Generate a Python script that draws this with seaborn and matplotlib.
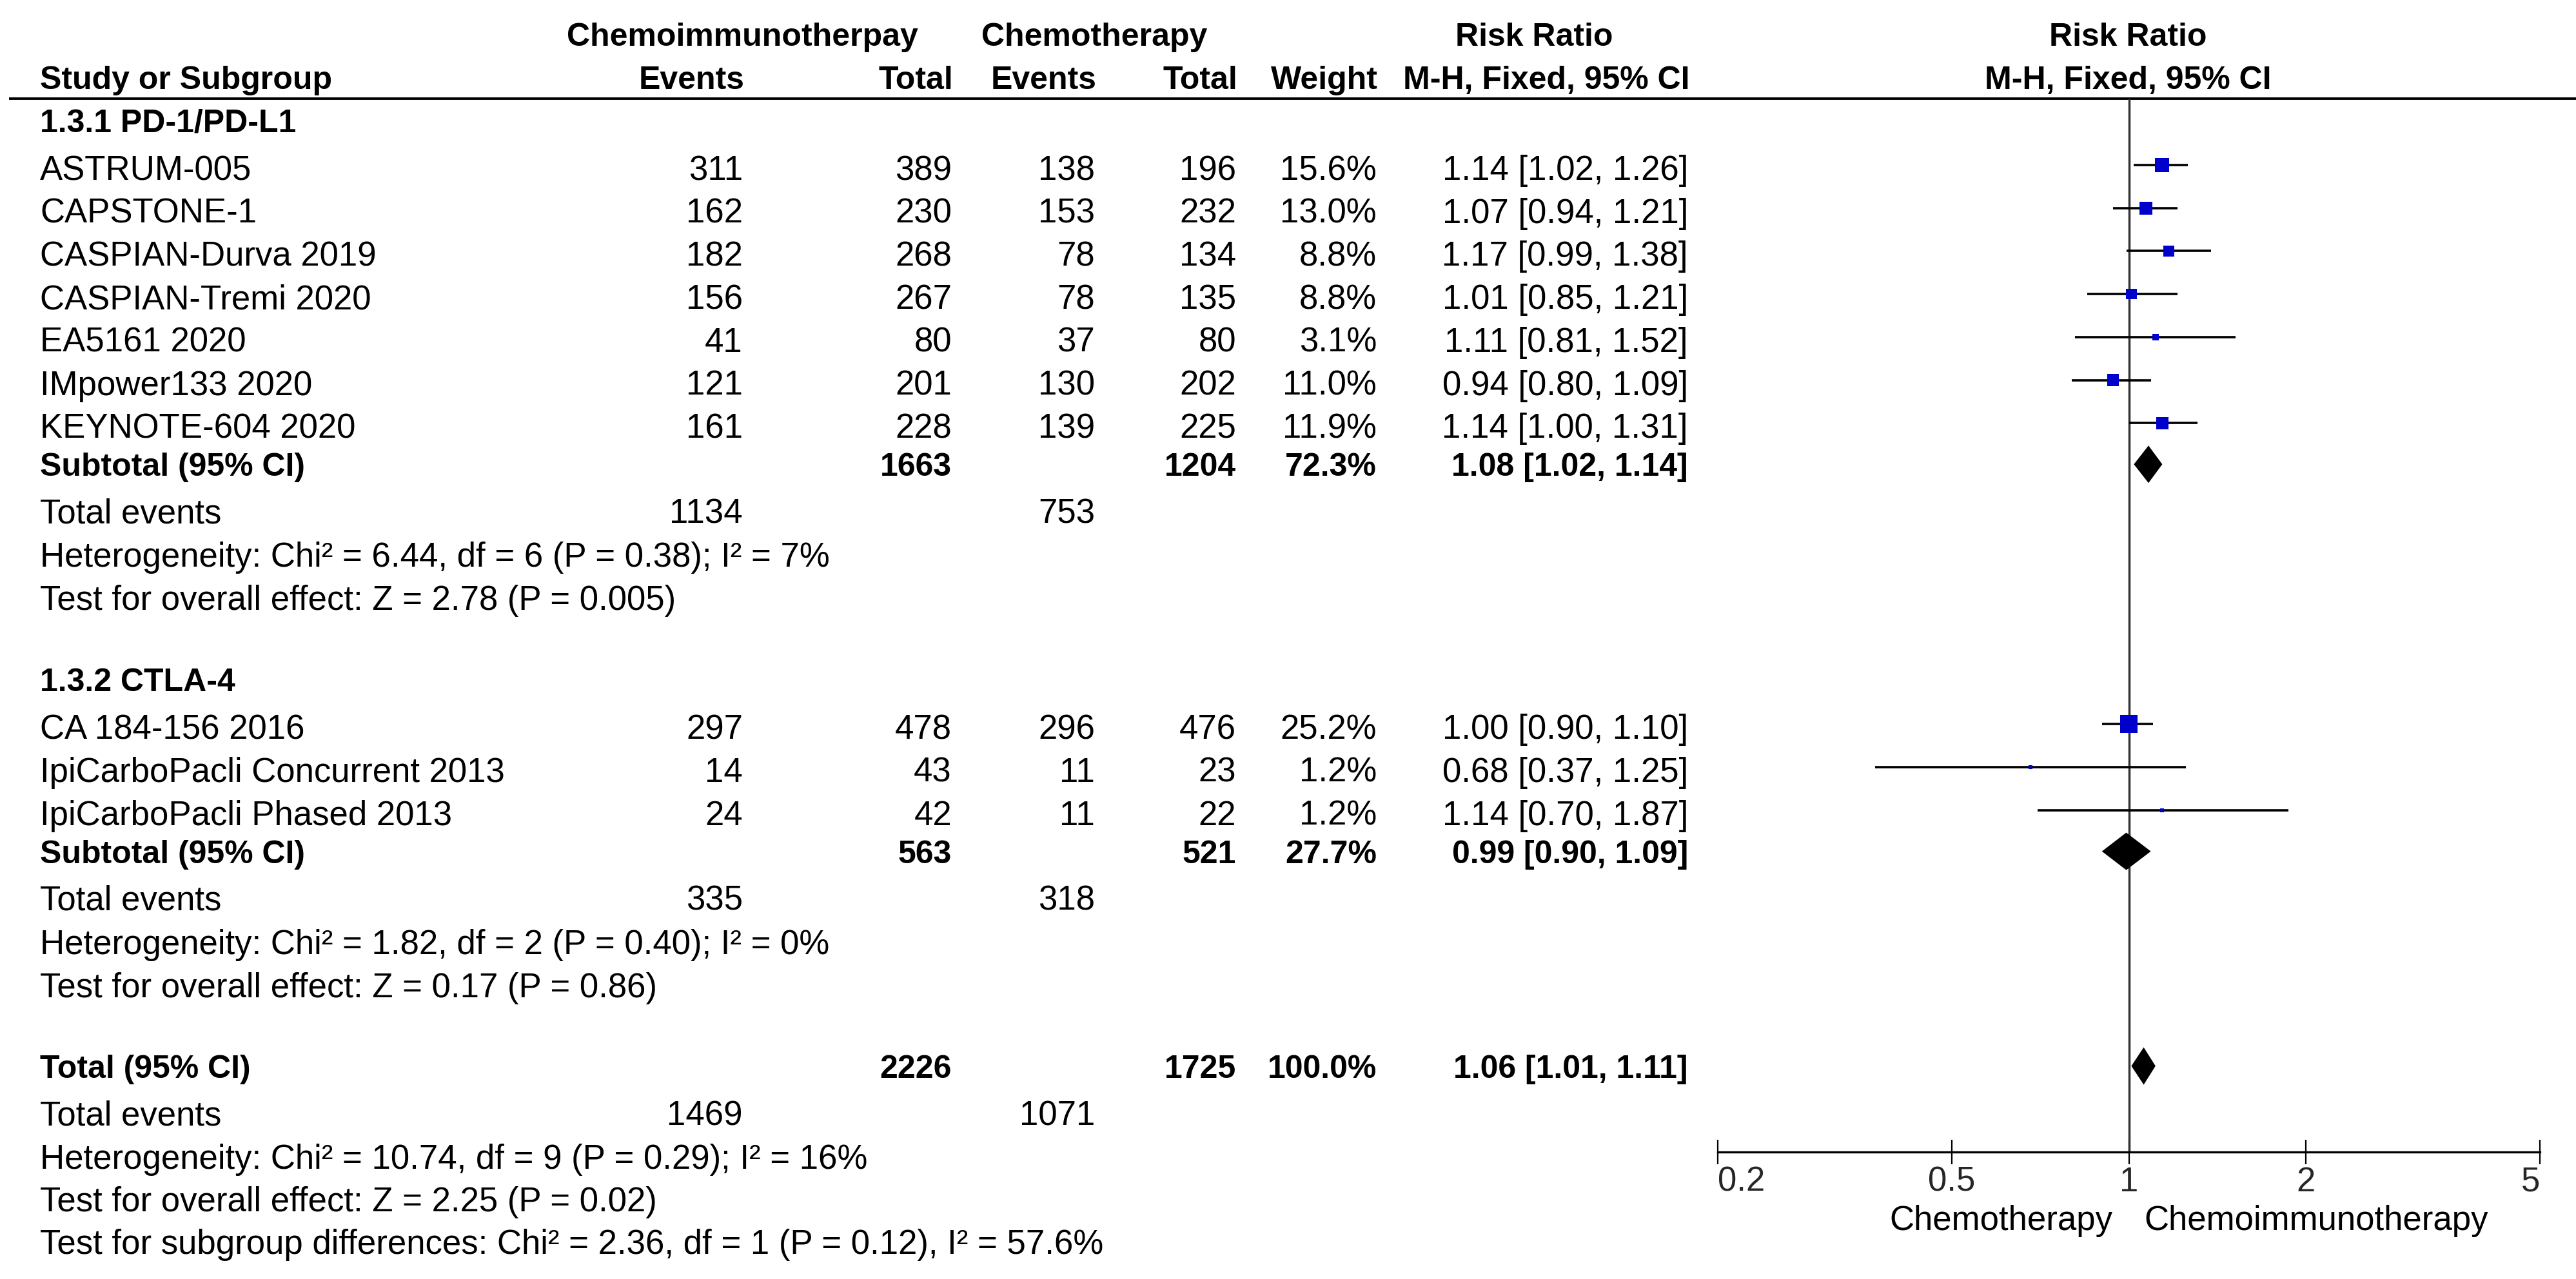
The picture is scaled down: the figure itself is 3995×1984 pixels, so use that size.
import matplotlib
matplotlib.use("Agg")
import matplotlib.pyplot as plt
import seaborn as sns
import numpy as np
from matplotlib.ticker import FixedLocator, NullLocator

# ---- data ----
group_titles = ["1.3.1 PD-1/PD-L1", "1.3.2 CTLA-4"]

studies_1 = ["ASTRUM-005", "CAPSTONE-1", "CASPIAN-Durva 2019", "CASPIAN-Tremi 2020",
             "EA5161 2020", "IMpower133 2020", "KEYNOTE-604 2020"]
events_ci_1 = [311, 162, 182, 156, 41, 121, 161]
total_ci_1 = [389, 230, 268, 267, 80, 201, 228]
events_c_1 = [138, 153, 78, 78, 37, 130, 139]
total_c_1 = [196, 232, 134, 135, 80, 202, 225]
weight_1 = [15.6, 13.0, 8.8, 8.8, 3.1, 11.0, 11.9]
rr_1 = [1.14, 1.07, 1.17, 1.01, 1.11, 0.94, 1.14]
lo_1 = [1.02, 0.94, 0.99, 0.85, 0.81, 0.80, 1.00]
hi_1 = [1.26, 1.21, 1.38, 1.21, 1.52, 1.09, 1.31]

studies_2 = ["CA 184-156 2016", "IpiCarboPacli Concurrent 2013", "IpiCarboPacli Phased 2013"]
events_ci_2 = [297, 14, 24]
total_ci_2 = [478, 43, 42]
events_c_2 = [296, 11, 11]
total_c_2 = [476, 23, 22]
weight_2 = [25.2, 1.2, 1.2]
rr_2 = [1.00, 0.68, 1.14]
lo_2 = [0.90, 0.37, 0.70]
hi_2 = [1.10, 1.25, 1.87]

# subtotal / total rows: [group1, group2, overall]
sum_total_ci = [1663, 563, 2226]
sum_total_c = [1204, 521, 1725]
sum_weight = [72.3, 27.7, 100.0]
sum_rr = [1.08, 0.99, 1.06]
sum_lo = [1.02, 0.90, 1.01]
sum_hi = [1.14, 1.09, 1.11]
sum_events_ci = [1134, 335, 1469]
sum_events_c = [753, 318, 1071]
heterogeneity = ["Heterogeneity: Chi² = 6.44, df = 6 (P = 0.38); I² = 7%",
                 "Heterogeneity: Chi² = 1.82, df = 2 (P = 0.40); I² = 0%",
                 "Heterogeneity: Chi² = 10.74, df = 9 (P = 0.29); I² = 16%"]
overall_effect = ["Test for overall effect: Z = 2.78 (P = 0.005)",
                  "Test for overall effect: Z = 0.17 (P = 0.86)",
                  "Test for overall effect: Z = 2.25 (P = 0.02)"]
subgroup_diff = "Test for subgroup differences: Chi² = 2.36, df = 1 (P = 0.12), I² = 57.6%"

x_ticks = [0.2, 0.5, 1, 2, 5]
x_ticklabels = ["0.2", "0.5", "1", "2", "5"]

# ---- layout (pixels) ----
W, H = 3995, 1984
FS = 38      # regular text
FS_B = 36    # bold text
X_LABEL = 62
X_EV1, X_TOT1, X_EV2, X_TOT2, X_W, X_RR = 1152, 1476, 1698, 1917, 2135, 2618
PLOT_L, PLOT_R = 2664, 3939
AXIS_Y = 1787
RULE_Y = 153
ROW = 66.7
CAP = 18  # half cap height, used to centre text on a row

sns.set_theme(style="white")
plt.rcParams["font.family"] = ["Liberation Sans", "DejaVu Sans"]

fig = plt.figure(figsize=(W / 100, H / 100), dpi=100)
ax_t = fig.add_axes([0, 0, 1, 1])
ax_t.set_xlim(0, W)
ax_t.set_ylim(H, 0)
ax_t.axis("off")

ax = fig.add_axes([PLOT_L / W, 0, (PLOT_R - PLOT_L) / W, 1])
ax.patch.set_alpha(0)
ax.set_xscale("log")
ax.set_xlim(0.2, 5)
ax.set_ylim(H, 0)


def txt(x, y, s, ha="left", bold=False):
    ax_t.text(x, y + CAP, s, ha=ha, va="baseline", fontsize=FS_B if bold else FS,
              fontweight="bold" if bold else "normal", color="black")


# header
txt(879, 53, "Chemoimmunotherpay", bold=True)
txt(1522, 53, "Chemotherapy", bold=True)
txt(2379, 53, "Risk Ratio", ha="center", bold=True)
txt(3300, 53, "Risk Ratio", ha="center", bold=True)
txt(X_LABEL, 120, "Study or Subgroup", bold=True)
for xx, s in zip([X_EV1, X_TOT1, X_EV2, X_TOT2, X_W, X_RR],
                 ["Events", "Total", "Events", "Total", "Weight", "M-H, Fixed, 95% CI"]):
    txt(xx + 2, 120, s, ha="right", bold=True)
txt(3300, 120, "M-H, Fixed, 95% CI", ha="center", bold=True)
ax_t.hlines(RULE_Y, 14, W, color="black", lw=2.8)

groups = [
    (studies_1, events_ci_1, total_ci_1, events_c_1, total_c_1, weight_1, rr_1, lo_1, hi_1),
    (studies_2, events_ci_2, total_ci_2, events_c_2, total_c_2, weight_2, rr_2, lo_2, hi_2),
]

study_y, study_rr, study_lo, study_hi, study_w = [], [], [], [], []
diamonds = []

y = 187
for g, (names, e1, t1, e2, t2, w, rr, lo, hi) in enumerate(groups):
    txt(X_LABEL, y, group_titles[g], bold=True)
    y += 74
    for i in range(len(names)):
        txt(X_LABEL, y, names[i])
        txt(X_EV1, y, str(e1[i]), ha="right")
        txt(X_TOT1, y, str(t1[i]), ha="right")
        txt(X_EV2, y, str(e2[i]), ha="right")
        txt(X_TOT2, y, str(t2[i]), ha="right")
        txt(X_W, y, f"{w[i]:.1f}%", ha="right")
        txt(X_RR, y, f"{rr[i]:.2f} [{lo[i]:.2f}, {hi[i]:.2f}]", ha="right")
        study_y.append(y - 5)
        study_rr.append(rr[i]); study_lo.append(lo[i]); study_hi.append(hi[i]); study_w.append(w[i])
        if i < len(names) - 1:
            y += ROW
    y += 59
    txt(X_LABEL, y, "Subtotal (95% CI)", bold=True)
    txt(X_TOT1, y, str(sum_total_ci[g]), ha="right", bold=True)
    txt(X_TOT2, y, str(sum_total_c[g]), ha="right", bold=True)
    txt(X_W, y, f"{sum_weight[g]:.1f}%", ha="right", bold=True)
    txt(X_RR, y, f"{sum_rr[g]:.2f} [{sum_lo[g]:.2f}, {sum_hi[g]:.2f}]", ha="right", bold=True)
    diamonds.append((y, sum_rr[g], sum_lo[g], sum_hi[g]))
    y += 73
    txt(X_LABEL, y, "Total events")
    txt(X_EV1, y, str(sum_events_ci[g]), ha="right")
    txt(X_EV2, y, str(sum_events_c[g]), ha="right")
    y += 68
    txt(X_LABEL, y, heterogeneity[g])
    y += 67
    txt(X_LABEL, y, overall_effect[g])
    y += 126

# overall total
y -= 1
txt(X_LABEL, y, "Total (95% CI)", bold=True)
txt(X_TOT1, y, str(sum_total_ci[2]), ha="right", bold=True)
txt(X_TOT2, y, str(sum_total_c[2]), ha="right", bold=True)
txt(X_W, y, f"{sum_weight[2]:.1f}%", ha="right", bold=True)
txt(X_RR, y, f"{sum_rr[2]:.2f} [{sum_lo[2]:.2f}, {sum_hi[2]:.2f}]", ha="right", bold=True)
diamonds.append((y, sum_rr[2], sum_lo[2], sum_hi[2]))
y += 74
txt(X_LABEL, y, "Total events")
txt(X_EV1, y, str(sum_events_ci[2]), ha="right")
txt(X_EV2, y, str(sum_events_c[2]), ha="right")
y += 67
txt(X_LABEL, y, heterogeneity[2])
y += 66
txt(X_LABEL, y, overall_effect[2])
y += 66
txt(X_LABEL, y, subgroup_diff)

# ---- forest panel ----
ax.vlines(1, RULE_Y, AXIS_Y, color="#333333", lw=2.5, zorder=1)
ax.hlines(study_y, study_lo, study_hi, color="black", lw=2.6, zorder=2)
sns.scatterplot(x=study_rr, y=study_y, marker="s", s=[16 * w for w in study_w],
                color="#0000CC", edgecolor="none", linewidth=0, ax=ax, legend=False, zorder=3)
for (yy, est, lo, hi) in diamonds:
    ax.fill([lo, est, hi, est], [yy, yy - 29, yy, yy + 29], color="black", lw=0, zorder=4)

for side in ["top", "left", "right"]:
    ax.spines[side].set_visible(False)
ax.spines["bottom"].set_position(("data", AXIS_Y))
ax.spines["bottom"].set_linewidth(2.4)
ax.spines["bottom"].set_color("black")
ax.yaxis.set_visible(False)
ax.xaxis.set_major_locator(FixedLocator(x_ticks))
ax.xaxis.set_minor_locator(NullLocator())
ax.set_xticklabels(x_ticklabels)
ax.tick_params(axis="x", which="major", direction="inout", length=27, width=1.6,
               color="black", labelsize=FS, pad=2, bottom=True)
labels = ax.get_xticklabels()
labels[0].set_ha("left")
labels[-1].set_ha("right")
ax.grid(False)

txt(3276, 1890, "Chemotherapy", ha="right")
txt(3325, 1890, "Chemoimmunotherapy", ha="left")

fig.savefig("out.png", dpi=100, facecolor="white")
